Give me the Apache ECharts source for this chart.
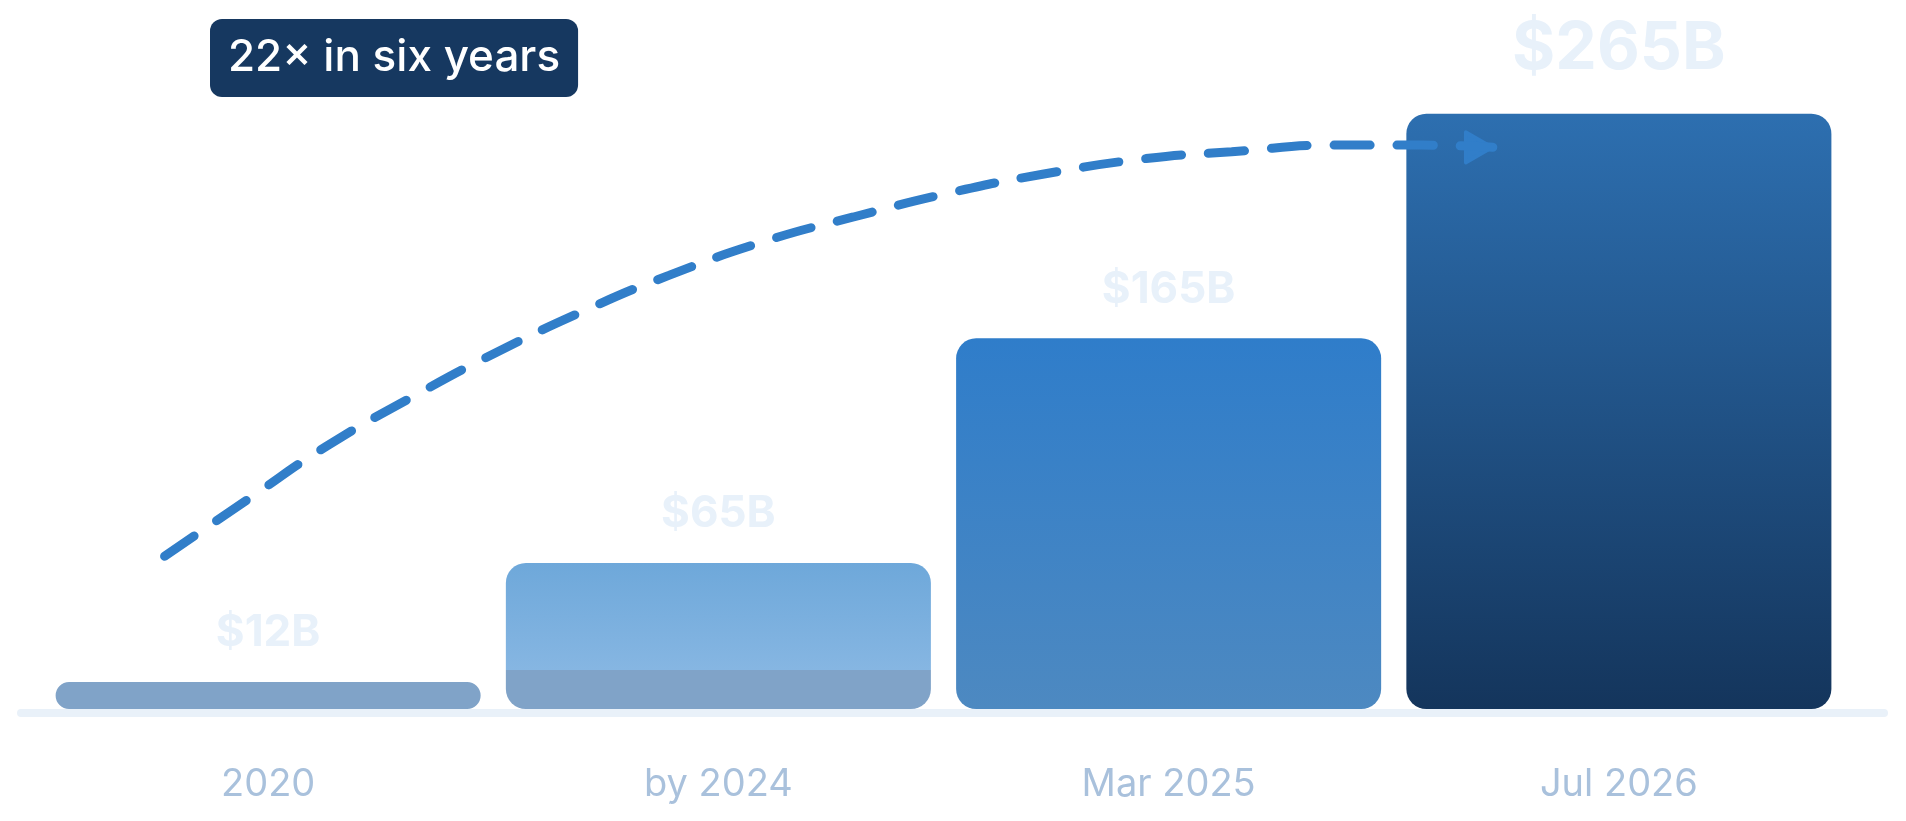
<!DOCTYPE html>
<html>
<head>
<meta charset="utf-8">
<script src="https://cdn.jsdelivr.net/npm/echarts@6/dist/echarts.min.js"></script>
<style>
html, body { margin: 0; padding: 0; background: #fff; }
#container { width: 1906px; height: 821px; }
</style>
</head>
<body>
<div id="container"></div>
<script>
var categories = ['2020', 'by 2024', 'Mar 2025', 'Jul 2026'];
var values = [12, 65, 165, 265];
var badgeText = '22× in six years';
// dashed growth curve (x in category units, y in $B)
var curveX = [-0.23, -0.04, 0.13, 0.33, 0.50, 0.71, 0.89, 1.10, 1.30, 1.52, 1.72, 1.95, 2.14, 2.37, 2.56, 2.72];
var curveY = [68, 94, 117, 140, 158, 178, 193, 208, 219, 230, 238, 245, 248, 251, 251, 250];

var dom = document.getElementById('container');
var myChart = echarts.init(dom);

function grad(stops) {
    return new echarts.graphic.LinearGradient(0, 0, 0, 1, stops.map(function (s) {
        return {offset: s[0], color: s[1]};
    }));
}

var barColors = [
    '#80a3c8',
    grad([[0, '#6ea8da'], [0.735, '#86b6e2'], [0.735, '#80a3c8'], [1, '#80a3c8']]),
    grad([[0, '#2f7dca'], [1, '#4d89c1']]),
    grad([[0, '#2d6fb0'], [1, '#14355c']])
];

var barData = values.map(function (v, i) {
    var item = {value: v, itemStyle: {color: barColors[i]}};
    if (i === values.length - 1) {
        item.label = {fontSize: 66, distance: 31};
    }
    return item;
});

var curveData = curveX.map(function (x, i) {
    return [x, curveY[i]];
});
var lastPt = curveData[curveData.length - 1];

var option = {
    backgroundColor: '#fff',
    animation: false,
    title: {
        text: badgeText,
        left: 210,
        top: 19,
        backgroundColor: '#163860',
        borderRadius: 12,
        padding: [17, 18],
        textStyle: {
            color: '#fff',
            fontSize: 44,
            fontWeight: 500,
            fontFamily: 'Inter',
            lineHeight: 44
        }
    },
    grid: {left: 43, right: 62, top: 35, bottom: 112, containLabel: false, outerBoundsMode: 'none'},
    xAxis: [{
        type: 'category',
        data: categories,
        axisLine: {show: false},
        axisTick: {show: false},
        splitLine: {show: false},
        axisLabel: {
            color: '#a9c1dc',
            fontSize: 38,
            fontFamily: 'Inter',
            margin: 57
        }
    }, {
        type: 'value',
        min: -0.5,
        max: 3.5,
        show: false
    }],
    yAxis: {
        type: 'value',
        min: 0,
        max: 300,
        show: false
    },
    graphic: [{
        type: 'rect',
        z: -1,
        shape: {x: 17, y: 709, width: 1871, height: 8, r: 4},
        style: {fill: '#e9f1f9'}
    }],
    series: [{
        type: 'bar',
        data: barData,
        barCategoryGap: '5.6%',
        itemStyle: {borderRadius: 20},
        label: {
            show: true,
            position: 'top',
            distance: 27,
            formatter: function (p) { return '$' + p.value + 'B'; },
            color: '#e8f1fa',
            fontSize: 44,
            fontWeight: 700,
            fontFamily: 'Inter'
        },
        z: 2
    }, {
        type: 'line',
        xAxisIndex: 1,
        data: curveData,
        smooth: 0.5,
        symbol: 'none',
        silent: true,
        lineStyle: {
            color: '#317ec9',
            width: 9,
            type: [36, 27],
            cap: 'round'
        },
        markPoint: {
            silent: true,
            symbol: 'path://M0,0L10,6L0,12Z',
            symbolSize: [26, 30],
            symbolOffset: [-14, 0],
            itemStyle: {color: '#317ec9', borderColor: '#317ec9', borderWidth: 4, borderJoin: 'round'},
            label: {show: false},
            data: [{coord: lastPt}]
        },
        z: 5
    }]
};

myChart.setOption(option);
</script>
</body>
</html>
